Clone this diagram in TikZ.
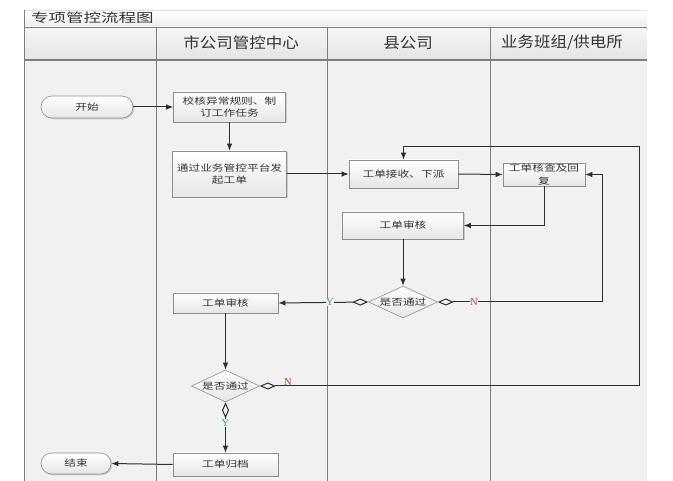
\documentclass[tikz,border=0pt]{standalone}
\usepackage{fontspec}
\setmainfont{Noto Sans CJK SC}
\newfontfamily\titlef[FakeStretch=1.4]{Noto Sans CJK SC}
\newfontfamily\headf[FakeStretch=1.1]{Noto Sans CJK SC}
\newfontfamily\boxf[FakeStretch=1.3]{Noto Sans CJK SC}
\newfontfamily\ynf{Liberation Serif}
\usetikzlibrary{arrows.meta,shapes.geometric,shapes.misc,shadows}
\definecolor{lanebg}{HTML}{F1F1F1}
\definecolor{titlebg}{HTML}{EDEDED}
\definecolor{headtop}{HTML}{F6F6F6}
\definecolor{headbot}{HTML}{E4E4E4}
\definecolor{laneline}{HTML}{7E7E7E}
\definecolor{conncol}{HTML}{2E2E2E}
\definecolor{boxline}{HTML}{8E8E8E}
\definecolor{boxbot}{HTML}{E6E6E6}
\definecolor{ygreen}{HTML}{3A9E78}
\definecolor{nred}{HTML}{C43A3E}
\begin{document}
\begin{tikzpicture}[x=1pt,y=-1pt,
  lane/.style={draw=laneline,line width=0.9pt},
  boxtext/.style={font=\boxf\fontsize{9}{11.5}\selectfont,text=black!80},
  procbox/.style={boxtext,draw=boxline,line width=0.6pt,top color=white,bottom color=boxbot,
    drop shadow={shadow xshift=1.3pt,shadow yshift=-1.3pt,fill=black!35,opacity=0.5},
    inner sep=0pt,align=center},
  termbox/.style={procbox,rounded rectangle},
  decision/.style={diamond,draw=boxline,line width=0.6pt,top color=white,bottom color=boxbot,
    inner sep=0pt,minimum width=69pt,minimum height=32pt},
  conn/.style={draw=conncol,line width=1pt,-{Latex[length=7pt,width=5.5pt]}},
  dconn/.style={draw=conncol,line width=1pt,{Diamond[open,length=16pt,width=7pt]}-{Latex[length=7pt,width=5.5pt]}},
  ylab/.style={font=\ynf\fontsize{10.5}{10.5}\selectfont,text=ygreen,fill=lanebg,inner sep=0.3pt},
  nlab/.style={font=\ynf\fontsize{10.5}{10.5}\selectfont,text=nred,fill=lanebg,inner sep=0.3pt},
  headtext/.style={font=\headf\fontsize{15}{15}\selectfont,text=black!80}
]
\useasboundingbox (0,0) rectangle (673,481);
\fill[white] (0,0) rectangle (673,481);
% pool background
\fill[lanebg] (24,10) rectangle (647,481);
\shade[top color=white,bottom color=titlebg] (24,10) rectangle (647,27);
\shade[top color=headtop,bottom color=headbot] (24,27) rectangle (647,60);
\draw[draw=black!12,line width=0.5pt] (24,10) -- (647,10);
\draw[lane] (24,10) -- (24,481);
\draw[lane] (24,27) -- (647,27);
\draw[lane,line width=1.3pt] (24,60) -- (647,60);
\draw[lane] (156,27) -- (156,481);
\draw[lane] (327,27) -- (327,481);
\draw[lane] (490,27) -- (490,481);
% title and headers
\node[font=\titlef\fontsize{12.5}{12.5}\selectfont,text=black!80,anchor=west,inner sep=0pt] (title) at (31,18) {专项管控流程图};
\node[headtext] (h1) at (241,43) {市公司管控中心};
\node[headtext] (h2) at (408,43) {县公司};
\node[headtext] (h3) at (562,43) {业务班组/供电所};
% nodes
\node[termbox,minimum width=92pt,minimum height=22pt] (start) at (87,107) {开始};
\node[procbox,minimum width=112pt,minimum height=30pt] (b1) at (229.5,107) {校核异常规则、制\\订工作任务};
\node[procbox,minimum width=114pt,minimum height=46pt] (b2) at (229.5,174) {通过业务管控平台发\\起工单};
\node[procbox,minimum width=109pt,minimum height=28pt] (b3) at (403.5,174) {工单接收、下派};
\node[procbox,minimum width=82pt,minimum height=23pt,font=\boxf\fontsize{9}{12.5}\selectfont] (b4) at (544,174.5) {工单核查及回\\复};
\node[procbox,minimum width=121pt,minimum height=27pt] (b5) at (403,225.5) {工单审核};
\node[decision,label={[boxtext]center:是否通过}] (d1) at (403,302) {};
\node[procbox,minimum width=105pt,minimum height=20pt] (b6) at (225.5,303) {工单审核};
\node[decision,minimum width=68pt,label={[boxtext]center:是否通过}] (d2) at (225.5,386) {};
\node[procbox,minimum width=105pt,minimum height=23pt] (b7) at (225.5,464.5) {工单归档};
\node[termbox,minimum width=70pt,minimum height=21pt] (end) at (76,463.5) {结束};
% waypoints
\coordinate (w1) at (602,302);
\coordinate (w2) at (639,386);
\coordinate (w3) at (639,147);
% connectors
\draw[conn] (start.east) -- (b1.west);
\draw[conn] (b1.south) -- (b2.north);
\draw[conn] (b2.east) -- (b3.west);
\draw[conn] (b3.east) -- (b4.west);
\draw[conn] (b4.south) |- (b5.east);
\draw[conn] (b5.south) -- (d1.north);
\draw[dconn] (d1.west) -- (b6.east);
\draw[dconn] (d1.east) -- (w1) |- (b4.east);
\draw[conn] (b6.south) -- (d2.north);
\draw[dconn] (d2.east) -- (w2) -- (w3) -| (b3.north);
\draw[dconn] (d2.south) -- (b7.north);
\draw[conn] (b7.west) -- (end.east);
% labels
\node[ylab] (y1) at (330,302) {Y};
\node[nlab] (n1) at (474,302) {N};
\node[nlab,fill=none] (n2) at (288,382) {N};
\node[ylab] (y2) at (225.5,423) {Y};
\end{tikzpicture}
\end{document}
